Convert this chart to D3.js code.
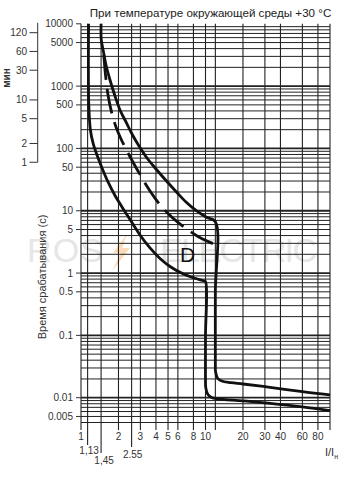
<!DOCTYPE html>
<html>
<head>
<meta charset="utf-8">
<script src="https://cdn.jsdelivr.net/npm/d3@7/dist/d3.min.js"></script>
<style>
html,body{margin:0;padding:0;background:#fff;}
svg{display:block;}
text{font-family:"Liberation Sans",Arial,sans-serif;}
</style>
</head>
<body>
<svg id="chart" width="349" height="500"></svg>
<script>
// ---- data ----
const title = "При температуре окружающей среды +30 °С";
const yAxisTitle = "Время срабатывания (с)";
const minAxisTitle = "мин";
const curveLabel = "D";

const xTickValues = [1, 2, 3, 4, 5, 6, 8, 10, 20, 30, 40, 60, 80];
const xTickLabels = ["1", "2", "3", "4", "5", "6", "8", "10", "20", "30", "40", "60", "80"];
const xExtraValues = [1.13, 1.45, 2.55];
const xExtraLabels = ["1,13", "1,45", "2.55"];
const xGridValues = [1, 1.13, 1.45, 2, 2.55, 3, 4, 5, 6, 8, 10, 12, 20, 30, 40, 60, 80, 100];

const yTickValues = [10000, 5000, 1000, 500, 100, 50, 10, 5, 1, 0.5, 0.1, 0.01, 0.005];
const yTickLabels = ["10000", "5000", "1000", "500", "100", "50", "10", "5", "1", "0.5", "0.1", "0.01", "0.005"];

const minTickValues = [120, 60, 30, 10, 5, 2, 1];

// lower limit curve (I/In, seconds)
const lowerI = [1.15, 1.155, 1.19, 1.25, 1.344, 1.475, 1.648, 1.875, 2.135, 2.475, 2.978, 3.583, 4.311, 5.187, 6.597, 8.085, 9.636, 10, 10, 10, 10.05, 10.4, 11.2, 12.5, 20, 33, 60, 100];
const lowerT = [10000, 500, 198, 122, 78.5, 48.6, 29.0, 17.6, 11.5, 7.24, 4.09, 2.53, 1.715, 1.276, 0.974, 0.834, 0.752, 0.733, 0.1, 0.02, 0.0145, 0.0115, 0.0101, 0.0096, 0.0089, 0.0081, 0.0071, 0.0062];

// upper limit curve
const upperI = [1.45, 1.455, 1.516, 1.588, 1.71, 1.875, 2.057, 2.298, 2.568, 2.923, 3.389, 4.003, 4.817, 5.796, 6.973, 8.391, 10.09, 12, 12, 12, 12.05, 12.5, 13.5, 16, 20, 33, 60, 100];
const upperT = [10000, 5500, 3530, 2184, 1254, 695, 414, 266, 170.6, 109.5, 70.3, 46.8, 30.6, 20.4, 13.8, 10.1, 7.94, 6.68, 0.5, 0.035, 0.026, 0.0205, 0.0185, 0.0174, 0.0166, 0.0147, 0.0125, 0.0111];

// dashed curve
const dashI = [1.524, 1.573, 1.648, 1.758, 1.91, 2.096, 2.342, 2.665, 3.09, 3.583, 4.232, 4.998, 6.013, 7.235, 8.707, 10.28, 12];
const dashT = [3162, 1510, 721, 385, 221, 141.8, 91.0, 56.3, 33.6, 20.8, 13.1, 9.04, 6.49, 4.92, 3.87, 3.27, 2.85];

// ---- drawing ----
const svg = d3.select("#chart");
const x = d3.scaleLog().domain([1, 100]).range([81, 330]);
const y = d3.scaleLog().domain([0.004, 10000]).range([422.5, 23.8]);

// watermark
const wm = svg.append("g");
wm.append("text").attr("x", 27).attr("y", 262).attr("font-size", 34)
  .attr("fill", "#e6e6e6").attr("textLength", 76).text("ROS");
wm.append("text").attr("x", 160).attr("y", 262).attr("font-size", 34)
  .attr("fill", "#e6e6e6").attr("textLength", 157).text("ELECTRIC");
wm.append("path").attr("d", "M127,234 L113,253 L121,253 L112,271 L130,248 L122,248 Z")
  .attr("fill", "#fcdcb8");

// horizontal grid
const hGrid = [];
for (let d = 0.001; d <= 1000.0001; d *= 10) {
  for (let k = 1; k <= 9; k++) {
    const v = +(k * d).toPrecision(6);
    if (v >= 0.004 - 1e-9 && v <= 10000 + 1e-6) hGrid.push(v);
  }
}
svg.append("g").selectAll("line").data(hGrid).join("line")
  .attr("x1", x(1)).attr("x2", x(100))
  .attr("y1", d => y(d)).attr("y2", d => y(d))
  .attr("stroke", "#222")
  .attr("stroke-width", d => Math.abs(Math.log10(d) - Math.round(Math.log10(d))) < 1e-6 ? 1.8 : 1);

// vertical grid
const extLen = v => {
  const i = xExtraValues.indexOf(v);
  if (i === 0) return 445;
  if (i === 1) return 453;
  if (i === 2) return 447;
  return 430;
};
svg.append("g").selectAll("line").data(xGridValues).join("line")
  .attr("x1", d => x(d)).attr("x2", d => x(d))
  .attr("y1", y(10000)).attr("y2", d => extLen(d))
  .attr("stroke", "#222").attr("stroke-width", 1.1);

// x tick labels
svg.append("g").selectAll("text").data(xTickValues).join("text")
  .attr("x", d => x(d)).attr("y", 440)
  .attr("text-anchor", "middle").attr("font-size", 10).attr("fill", "#333")
  .text((d, i) => xTickLabels[i]);
const extraY = [453.5, 463.5, 457.5];
const extraDx = [1.5, 3, 1];
svg.append("g").selectAll("text").data(xExtraValues).join("text")
  .attr("x", (d, i) => x(d) + extraDx[i]).attr("y", (d, i) => extraY[i])
  .attr("text-anchor", "middle").attr("font-size", 10).attr("fill", "#333")
  .text((d, i) => xExtraLabels[i]);

// x axis title I/In
const xt = svg.append("text").attr("x", 325).attr("y", 456).attr("font-size", 11).attr("fill", "#333");
xt.append("tspan").text("I/I");
xt.append("tspan").attr("font-size", 7).attr("dy", 3).text("н");

// y ticks
svg.append("g").selectAll("line").data(yTickValues).join("line")
  .attr("x1", 76).attr("x2", x(1))
  .attr("y1", d => y(d)).attr("y2", d => y(d))
  .attr("stroke", "#333").attr("stroke-width", 1);
svg.append("g").selectAll("text").data(yTickValues).join("text")
  .attr("x", 73).attr("y", d => y(d) + 3.5)
  .attr("text-anchor", "end").attr("font-size", 10).attr("fill", "#333")
  .text((d, i) => yTickLabels[i]);

// y title
svg.append("text").attr("transform", "translate(46,277) rotate(-90)")
  .attr("text-anchor", "middle").attr("font-size", 11).attr("fill", "#333")
  .text(yAxisTitle);

// minutes axis
const mx = 37.7;
svg.append("line").attr("x1", mx).attr("x2", mx)
  .attr("y1", y(10000) - 1).attr("y2", y(1 * 60))
  .attr("stroke", "#333").attr("stroke-width", 1);
svg.append("g").selectAll("line").data(minTickValues).join("line")
  .attr("x1", 29.5).attr("x2", mx)
  .attr("y1", d => y(d * 60)).attr("y2", d => y(d * 60))
  .attr("stroke", "#333").attr("stroke-width", 1);
svg.append("g").selectAll("text").data(minTickValues).join("text")
  .attr("x", 27).attr("y", d => y(d * 60) + 3.5)
  .attr("text-anchor", "end").attr("font-size", 10).attr("fill", "#333")
  .text(d => d);
svg.append("text").attr("transform", "translate(10,78) rotate(-90)")
  .attr("text-anchor", "middle").attr("font-size", 10).attr("font-weight", "bold").attr("fill", "#333")
  .text(minAxisTitle);

// title
svg.append("text").attr("x", 210.5).attr("y", 17).attr("text-anchor", "middle")
  .attr("font-size", 11.6).attr("fill", "#222").text(title);

// curves
const line = d3.line().x(d => x(d[0])).y(d => y(d[1])).curve(d3.curveCatmullRom.alpha(0.5));
const lowerPts = lowerI.map((v, i) => [v, lowerT[i]]);
const upperPts = upperI.map((v, i) => [v, upperT[i]]);
const dashPts = dashI.map((v, i) => [v, dashT[i]]);
const cg = svg.append("g").attr("fill", "none").attr("stroke", "#111").attr("stroke-width", 2.8)
  .attr("stroke-linejoin", "round");
cg.append("path").attr("d", line(lowerPts));
cg.append("path").attr("d", line(upperPts));
cg.append("path").attr("d", line(dashPts)).attr("stroke-dasharray", "25,9");

// label D
svg.append("text").attr("x", 180).attr("y", 262).attr("font-size", 21).attr("fill", "#111").text(curveLabel);
</script>
</body>
</html>
